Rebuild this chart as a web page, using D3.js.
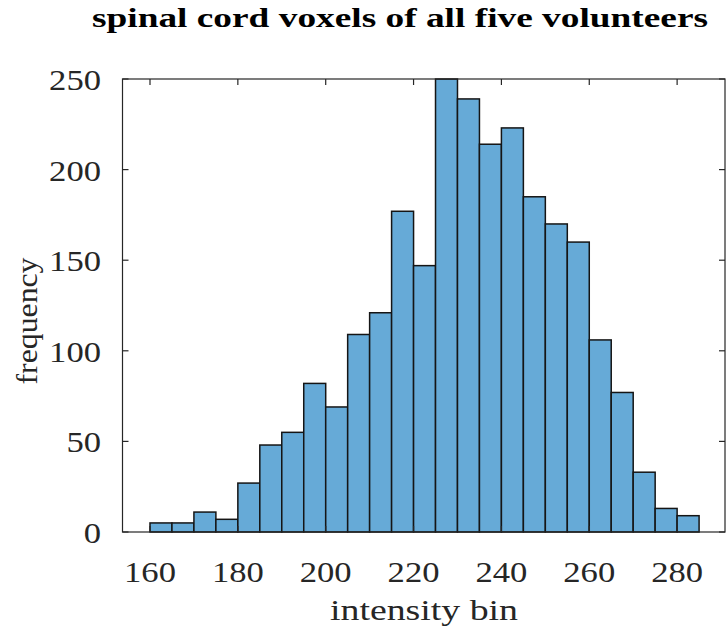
<!DOCTYPE html>
<html>
<head>
<meta charset="utf-8">
<script src="https://cdn.jsdelivr.net/npm/d3@7"></script>
<style>
  html, body { margin: 0; padding: 0; background: #fff; }
  svg { display: block; }
  text { font-family: "Liberation Serif", "DejaVu Serif", serif; fill: #262626; }
</style>
</head>
<body>
<svg id="chart" width="727" height="633"></svg>
<script>
// Histogram bins (lower edges, width 5) and their counts
const binStart = [160,165,170,175,180,185,190,195,200,205,210,215,220,225,230,235,240,245,250,255,260,265,270,275,280];
const binWidth = 5;
const counts   = [5,5,11,7,27,48,55,82,69,109,121,177,147,250,239,214,223,185,170,160,106,77,33,13,9];

const xTicks = [160,180,200,220,240,260,280];
const yTicks = [0,50,100,150,200,250];

const titleText = "spinal cord voxels of all five volunteers";
const xLabel = "intensity bin";
const yLabel = "frequency";

const svg = d3.select("#chart");
const plot = { left: 122.5, right: 725, top: 79, bottom: 532 };

const x = d3.scaleLinear().domain([153.74, 290.9]).range([plot.left, plot.right]);
const y = d3.scaleLinear().domain([0, 250]).range([plot.bottom, plot.top]);

const bins = binStart.map((s, i) => ({ x0: s, x1: s + binWidth, n: counts[i] }));

// bars
svg.append("g").selectAll("rect").data(bins).join("rect")
  .attr("x", d => x(d.x0))
  .attr("y", d => y(d.n))
  .attr("width", d => x(d.x1) - x(d.x0))
  .attr("height", d => y(0) - y(d.n))
  .attr("fill", "#66aad7")
  .attr("stroke", "#151515")
  .attr("stroke-width", 1.5);

// box and inward ticks on all four sides
const axisColor = "#262626";
const tickLen = 6;
const g = svg.append("g").attr("stroke", axisColor).attr("stroke-width", 1.2).attr("fill", "none");
g.append("rect")
  .attr("x", plot.left).attr("y", plot.top)
  .attr("width", plot.right - plot.left).attr("height", plot.bottom - plot.top);

xTicks.forEach(t => {
  const px = x(t);
  g.append("line").attr("x1", px).attr("x2", px).attr("y1", plot.bottom).attr("y2", plot.bottom - tickLen);
  g.append("line").attr("x1", px).attr("x2", px).attr("y1", plot.top).attr("y2", plot.top + tickLen);
});
yTicks.forEach(t => {
  const py = y(t);
  g.append("line").attr("x1", plot.left).attr("x2", plot.left + tickLen).attr("y1", py).attr("y2", py);
  g.append("line").attr("x1", plot.right).attr("x2", plot.right - tickLen).attr("y1", py).attr("y2", py);
});

// width of a numeric label, roughly 17px per digit
const numWidth = d => String(d).length * 17.3;

// tick labels
svg.append("g").selectAll("text").data(xTicks).join("text")
  .attr("x", d => x(d))
  .attr("y", 582)
  .attr("text-anchor", "middle")
  .attr("font-size", 30)
  .attr("textLength", numWidth)
  .attr("lengthAdjust", "spacingAndGlyphs")
  .text(d => d);

svg.append("g").selectAll("text").data(yTicks).join("text")
  .attr("x", 101)
  .attr("y", d => y(d) + 11)
  .attr("text-anchor", "end")
  .attr("font-size", 30)
  .attr("textLength", numWidth)
  .attr("lengthAdjust", "spacingAndGlyphs")
  .text(d => d);

// axis labels
svg.append("text")
  .attr("x", 424)
  .attr("y", 620)
  .attr("text-anchor", "middle")
  .attr("font-size", 29)
  .attr("textLength", 188)
  .attr("lengthAdjust", "spacingAndGlyphs")
  .text(xLabel);

svg.append("text")
  .attr("transform", `translate(37, 321) rotate(-90)`)
  .attr("text-anchor", "middle")
  .attr("font-size", 29)
  .attr("textLength", 127)
  .attr("lengthAdjust", "spacingAndGlyphs")
  .text(yLabel);

// title
svg.append("text")
  .attr("x", 400)
  .attr("y", 27)
  .attr("text-anchor", "middle")
  .attr("font-size", 27)
  .attr("font-weight", "bold")
  .attr("textLength", 616)
  .attr("lengthAdjust", "spacingAndGlyphs")
  .style("fill", "#000")
  .text(titleText);
</script>
</body>
</html>
